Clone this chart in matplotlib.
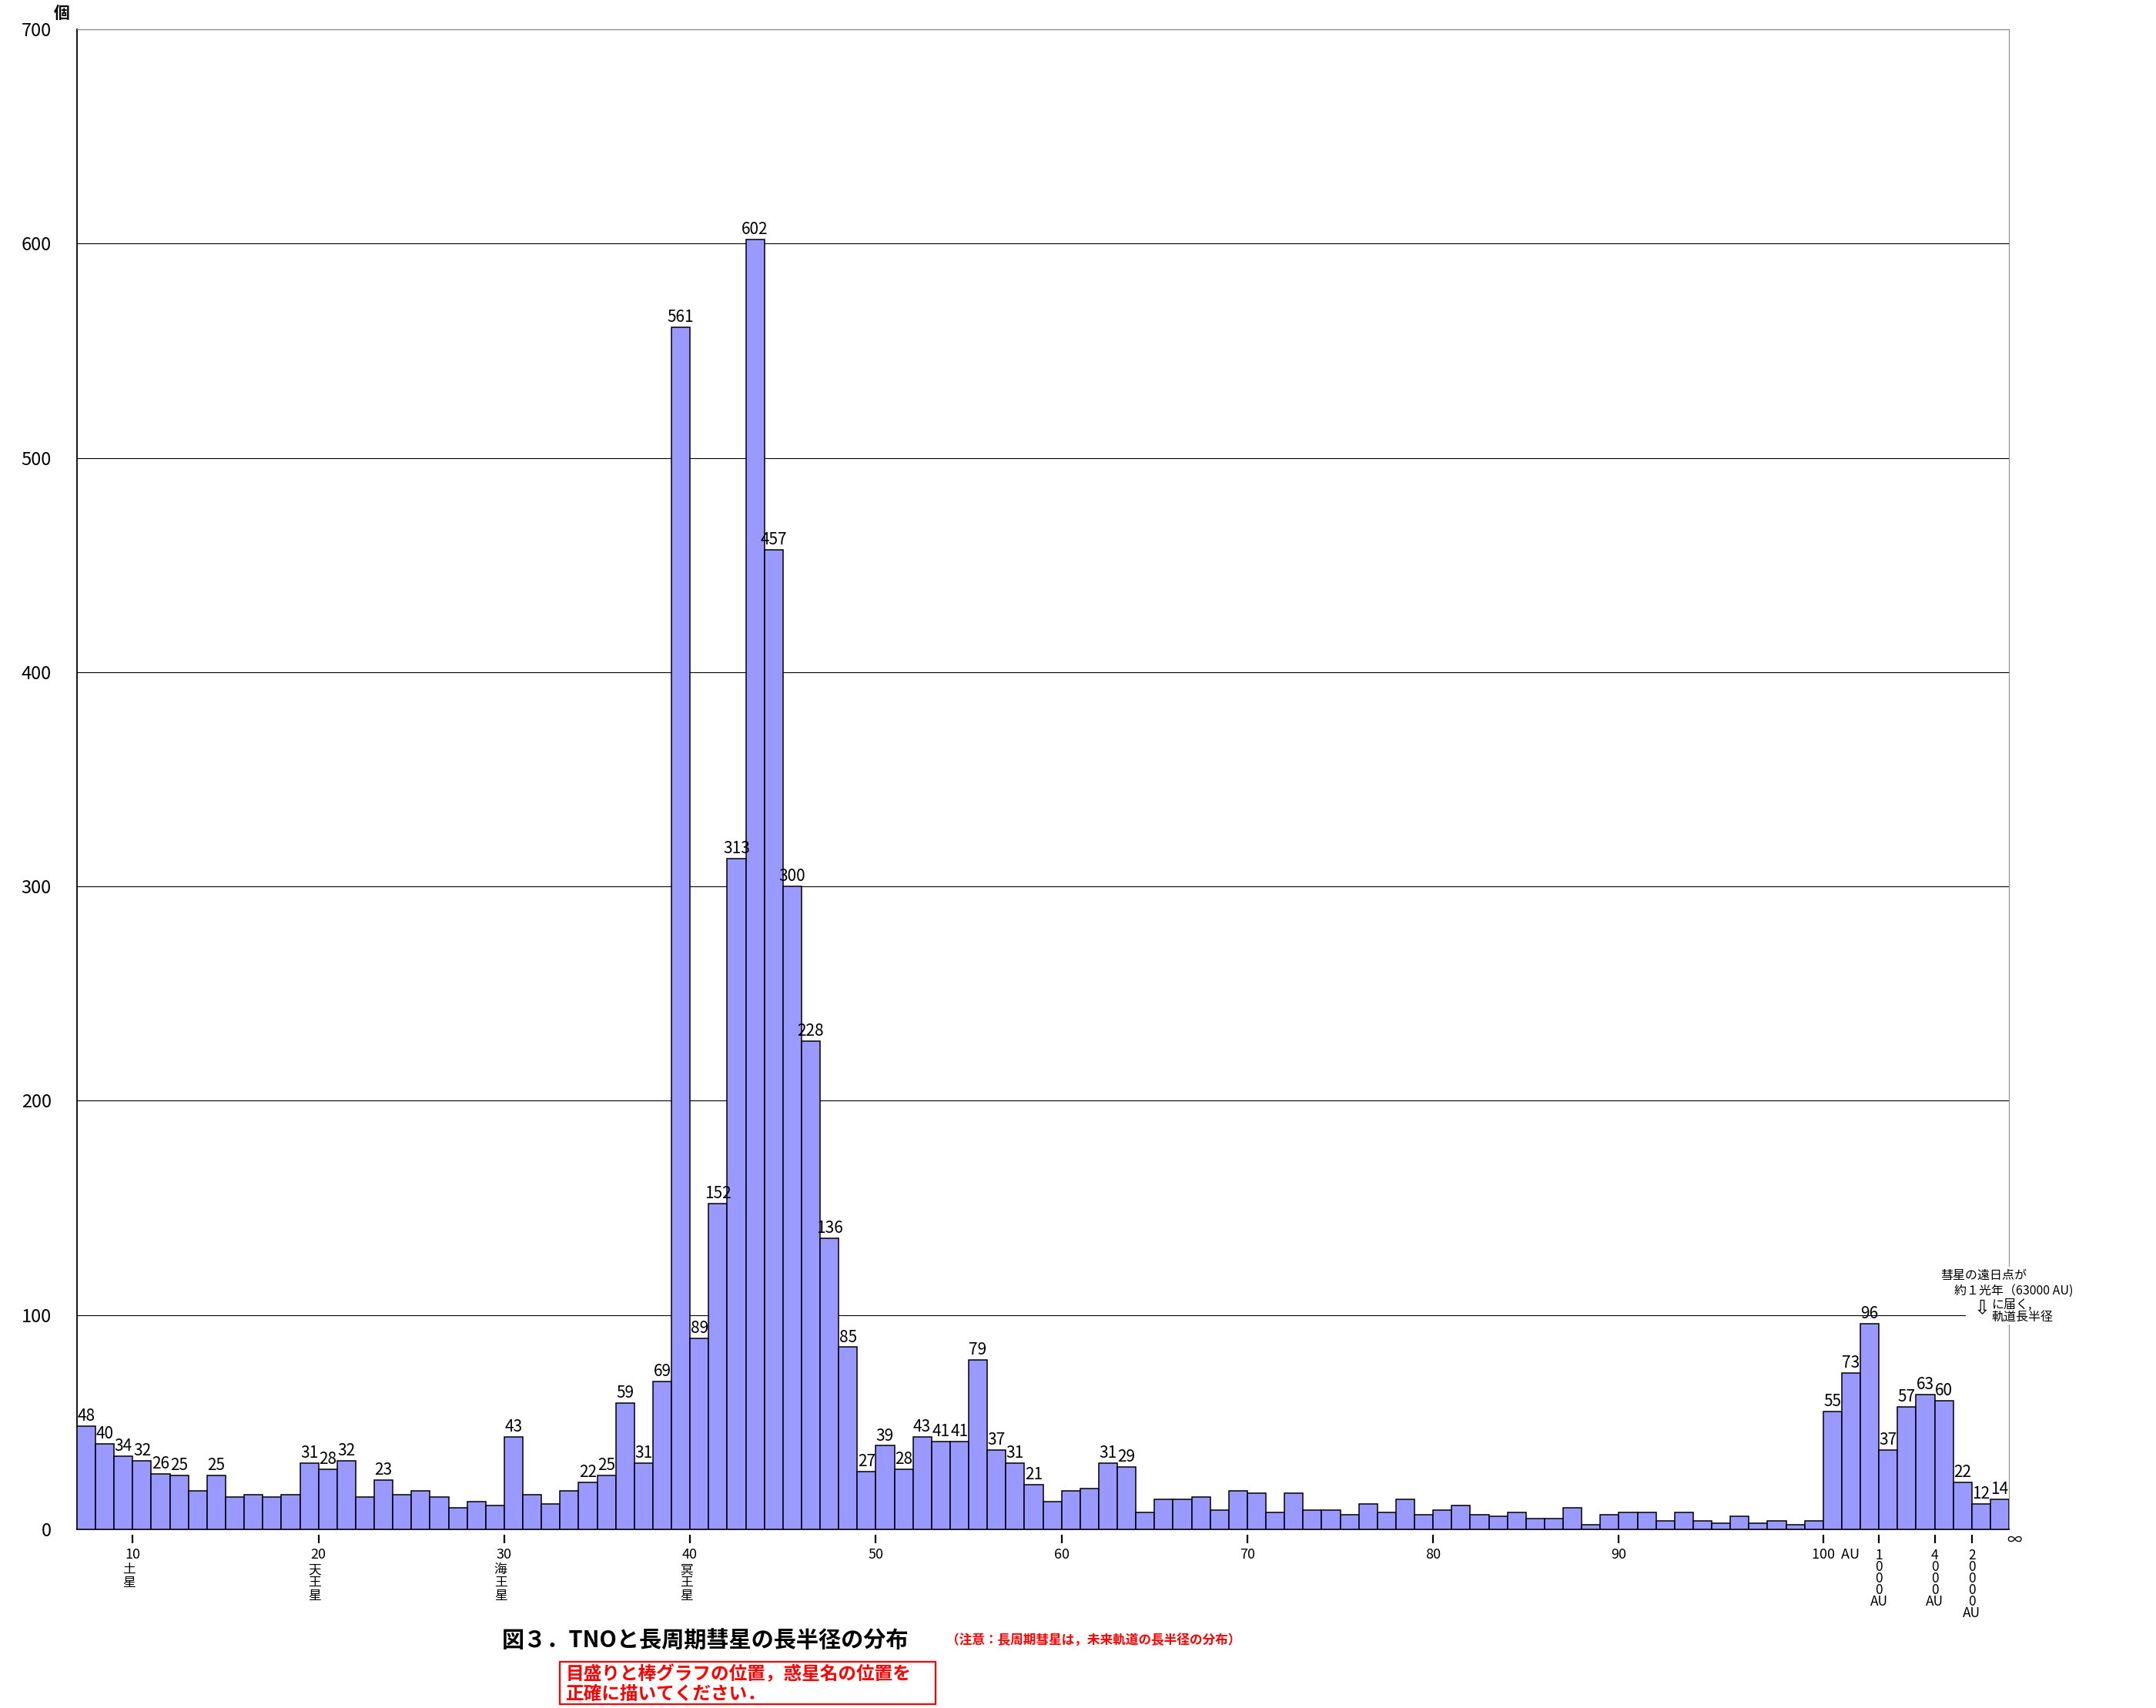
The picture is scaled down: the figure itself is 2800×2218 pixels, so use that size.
import numpy as np
import matplotlib
matplotlib.use('Agg')
import matplotlib.pyplot as plt
from matplotlib import transforms
from matplotlib.patches import Rectangle

plt.rcParams['font.family'] = ['Noto Sans CJK JP', 'DejaVu Sans']

# Datos: número de objetos por intervalo de 1 AU (7..100 AU)
primer_au = 7
tno_counts = [48, 40, 34, 32, 26, 25, 18, 25, 15, 16,
              15, 16, 31, 28, 32, 15, 23, 16, 18, 15,
              10, 13, 11, 43, 16, 12, 18, 22, 25, 59,
              31, 69, 561, 89, 152, 313, 602, 457, 300, 228,
              136, 85, 27, 39, 28, 43, 41, 41, 79, 37,
              31, 21, 13, 18, 19, 31, 29, 8, 14, 14,
              15, 9, 18, 17, 8, 17, 9, 9, 7, 12,
              8, 14, 7, 9, 11, 7, 6, 8, 5, 5,
              10, 2, 7, 8, 8, 4, 8, 4, 3, 6,
              3, 4, 2, 4]
# cometas de periodo largo (100 AU .. infinito)
cometa_counts = [55, 73, 96, 37, 57, 63, 60, 22, 12, 14]

au_ticks = [10, 20, 30, 40, 50, 60, 70, 80, 90]
planeta_ticks = [10, 20, 30, 40]
planeta_nombres = ['土星', '天王星', '海王星', '冥王星']
au100_tick = 101
cometa_ticks = [104, 107, 109]
cometa_labels = ['1000', '4000', '20000']
infinito_pos = 111
etiqueta_min = 20

W, H = 2800, 2218
AX_L, AX_R, AX_T, AX_B = 100, 2609, 38, 1986
AX_H = AX_B - AX_T


def fx(px):
    return px / W


def fy(px):
    return 1 - px / H


def main():
    fig = plt.figure(figsize=(W / 100, H / 100), dpi=100)
    ax = fig.add_axes([fx(AX_L), fy(AX_B), (AX_R - AX_L) / W, AX_H / H])

    counts = tno_counts + cometa_counts
    x = np.arange(len(counts)) + primer_au
    ax.bar(x, counts, width=1, align='edge', color='#9999FF',
           edgecolor='black', linewidth=1.1, zorder=3)

    # etiquetas de valores
    n_tno = len(tno_counts)
    for i, (xi, v) in enumerate(zip(x, counts)):
        if v >= etiqueta_min or i >= n_tno:
            ax.annotate(str(v), (xi + 0.5, v), xytext=(0, 5),
                        textcoords='offset points', ha='center',
                        va='baseline', fontsize=15, zorder=4)

    ax.set_xlim(primer_au, infinito_pos)
    ax.set_ylim(0, 700)
    ax.set_yticks(range(0, 701, 100))
    ax.set_xticks([])
    ax.tick_params(axis='y', length=0, pad=24, labelsize=17)
    ax.yaxis.grid(True, color='black', linewidth=0.8)
    ax.set_axisbelow(True)
    ax.spines['top'].set_color('#888888')
    ax.spines['right'].set_color('#888888')
    ax.spines['left'].set_linewidth(1.3)
    ax.spines['bottom'].set_linewidth(1.3)

    # marcas del eje x separadas del eje
    marcas = au_ticks + [au100_tick] + cometa_ticks
    ax.vlines(marcas, -18 / AX_H, -7 / AX_H, transform=ax.get_xaxis_transform(),
              clip_on=False, color='black', linewidth=1.6)

    def bajo(px):
        return transforms.offset_copy(ax.get_xaxis_transform(), fig=fig,
                                      y=-px, units='dots')

    for t in au_ticks:
        ax.text(t, 0, str(t), transform=bajo(33), ha='center', va='center',
                fontsize=13)
    ax.text(au100_tick - 0.6, 0, '100  AU', transform=bajo(33), ha='left',
            va='center', fontsize=13)
    for t, lab in zip(cometa_ticks, cometa_labels):
        ax.text(t, 0, '\n'.join(lab) + '\nAU', transform=bajo(25), ha='center',
                va='top', fontsize=12.5, linespacing=0.78)
    ax.text(infinito_pos + 0.3, 0, '∞', transform=bajo(14), ha='center',
            va='center', fontsize=14)
    for t, nombre in zip(planeta_ticks, planeta_nombres):
        ax.text(t - 0.2, 0, '\n'.join(nombre), transform=bajo(44), ha='center',
                va='top', fontsize=12, linespacing=1.0)

    fig.text(fx(80), fy(17), '個', ha='center', va='center', fontsize=15,
             fontweight='bold')

    # nota sobre el afelio
    fig.add_artist(Rectangle((fx(2553), fy(1720)), (2720 - 2553) / W, (1720 - 1645) / H,
                             transform=fig.transFigure, facecolor='white',
                             edgecolor='none', zorder=5))
    nota = [(2520, 1656, '彗星の遠日点が'), (2538, 1676, '約１光年（63000 AU)'),
            (2586, 1694, 'に届く,'), (2586, 1711, '軌道長半径')]
    for px, py, s in nota:
        fig.text(fx(px), fy(py), s, ha='left', va='center', fontsize=11.5, zorder=6)
    fig.text(fx(2564), fy(1699), '⇩', ha='left', va='center', fontsize=18,
             zorder=6, family=['DejaVu Sans'])

    # título y notas inferiores
    fig.text(fx(652), fy(2131), '図３．TNOと長周期彗星の長半径の分布', ha='left',
             va='center', fontsize=21, fontweight='bold')
    fig.text(fx(1229), fy(2131), '（注意：長周期彗星は，未来軌道の長半径の分布）',
             ha='left', va='center', fontsize=12, fontweight='bold', color='red')
    fig.add_artist(Rectangle((fx(727), fy(2213)), (1215 - 727) / W, (2213 - 2158) / H,
                             transform=fig.transFigure, fill=False,
                             edgecolor='red', linewidth=1.6))
    fig.text(fx(735), fy(2174), '目盛りと棒グラフの位置，惑星名の位置を', ha='left',
             va='center', fontsize=17, fontweight='bold', color='red')
    fig.text(fx(735), fy(2200), '正確に描いてください．', ha='left',
             va='center', fontsize=17, fontweight='bold', color='red')

    fig.savefig('out.png', dpi=100)
    plt.close(fig)


if __name__ == "__main__":
    main()
